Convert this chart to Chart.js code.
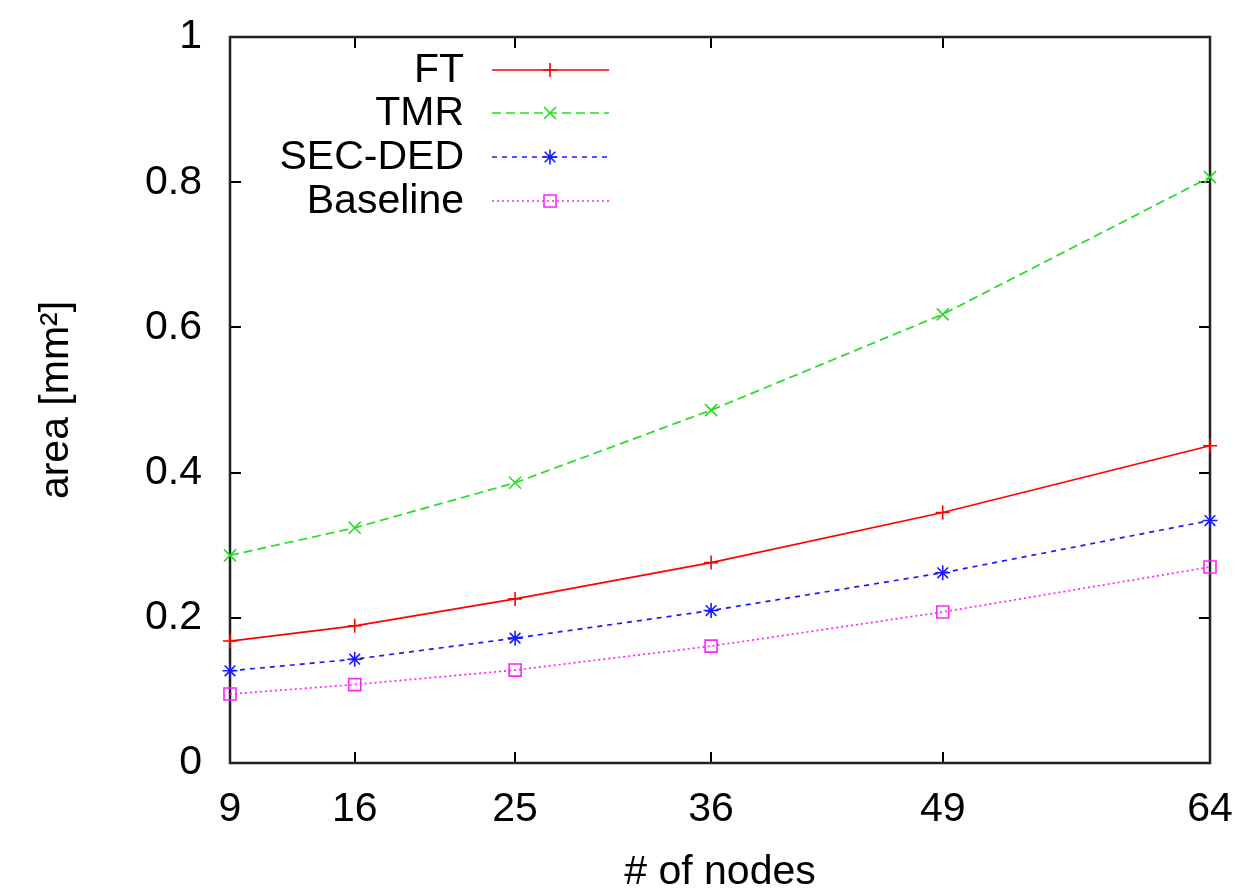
<!DOCTYPE html>
<html>
<head>
<meta charset="utf-8">
<script src="https://cdn.jsdelivr.net/npm/chart.js@4.4.0/dist/chart.umd.min.js"></script>
<style>
  html, body { margin: 0; padding: 0; background: #fff; }
  #wrap { width: 1237px; height: 889px; }
</style>
</head>
<body>
<div id="wrap"><canvas id="c" width="1237" height="889"></canvas></div>
<script>
const nodes = [9, 16, 25, 36, 49, 64];
const xTicks = [9, 16, 25, 36, 49, 64];
const yTicks = [0, 0.2, 0.4, 0.6, 0.8, 1];
const seriesNames = ['FT', 'TMR', 'SEC-DED', 'Baseline'];
const ftArea = [0.168, 0.189, 0.226, 0.276, 0.345, 0.437];
const tmrArea = [0.286, 0.324, 0.386, 0.486, 0.618, 0.807];
const secdedArea = [0.127, 0.143, 0.172, 0.210, 0.262, 0.334];
const baselineArea = [0.095, 0.108, 0.128, 0.161, 0.208, 0.270];

const FONT = 'Liberation Sans, Arial, Helvetica, sans-serif';

function pts(vals) { return nodes.map((x, i) => ({ x: x, y: vals[i] })); }

const styles = [
  { color: '#ff0000', dash: [], pointStyle: 'cross', radius: 7 },
  { color: '#22dd22', dash: [9, 5], pointStyle: 'crossRot', radius: 8.5 },
  { color: '#1a1aff', dash: [5, 5], pointStyle: 'star', radius: 7.5 },
  { color: '#ff22ff', dash: [2, 3], pointStyle: 'rect', radius: 8.5 }
];
const seriesVals = [ftArea, tmrArea, secdedArea, baselineArea];

const datasets = seriesNames.map((name, i) => ({
  label: name,
  data: pts(seriesVals[i]),
  borderColor: styles[i].color,
  backgroundColor: 'rgba(0,0,0,0)',
  borderWidth: 1.7,
  borderDash: styles[i].dash,
  pointStyle: styles[i].pointStyle,
  pointRadius: styles[i].radius,
  pointHoverRadius: styles[i].radius,
  pointBorderColor: styles[i].color,
  pointBackgroundColor: 'rgba(0,0,0,0)',
  pointBorderWidth: 1.6,
  tension: 0,
  clip: false
}));

const framePlugin = {
  id: 'frame',
  beforeDatasetsDraw(chart) {
    const { ctx, chartArea: a, scales } = chart;
    const TL = 11;
    ctx.save();
    ctx.strokeStyle = '#000';
    ctx.lineWidth = 2;
    ctx.setLineDash([]);
    ctx.beginPath();
    xTicks.forEach(v => {
      const px = Math.round(scales.x.getPixelForValue(v));
      ctx.moveTo(px, a.bottom); ctx.lineTo(px, a.bottom - TL);
      ctx.moveTo(px, a.top); ctx.lineTo(px, a.top + TL);
    });
    yTicks.forEach(v => {
      const py = Math.round(scales.y.getPixelForValue(v));
      ctx.moveTo(a.left, py); ctx.lineTo(a.left + TL, py);
      ctx.moveTo(a.right, py); ctx.lineTo(a.right - TL, py);
    });
    ctx.stroke();
    ctx.lineWidth = 2.5;
    ctx.strokeStyle = '#222';
    ctx.strokeRect(a.left, a.top, a.right - a.left, a.bottom - a.top);
    ctx.restore();
  }
};

const legendPlugin = {
  id: 'gpLegend',
  afterDatasetsDraw(chart) {
    const { ctx } = chart;
    const rows = [70, 113, 157, 201];
    const textRight = 464, lineL = 492, lineR = 609, markX = 550;
    ctx.save();
    chart.data.datasets.forEach((ds, i) => {
      const y = rows[i];
      ctx.font = '41px ' + FONT;
      ctx.fillStyle = '#000';
      ctx.textAlign = 'right';
      ctx.textBaseline = 'middle';
      ctx.fillText(ds.label, textRight, y + 1);
      ctx.strokeStyle = ds.borderColor;
      ctx.lineWidth = ds.borderWidth;
      ctx.setLineDash(ds.borderDash);
      ctx.beginPath();
      ctx.moveTo(lineL, y); ctx.lineTo(lineR, y);
      ctx.stroke();
      ctx.setLineDash([]);
      ctx.fillStyle = 'rgba(0,0,0,0)';
      ctx.lineWidth = ds.pointBorderWidth;
      Chart.helpers.drawPoint(ctx, {
        pointStyle: ds.pointStyle, radius: ds.pointRadius, rotation: 0, borderWidth: ds.pointBorderWidth
      }, markX, y);
    });
    ctx.restore();
  }
};

new Chart(document.getElementById('c'), {
  type: 'line',
  data: { datasets: datasets },
  options: {
    responsive: false,
    animation: false,
    layout: { padding: { left: 0, right: 27, top: 37, bottom: 0 } },
    plugins: { legend: { display: false }, tooltip: { enabled: false } },
    scales: {
      x: {
        type: 'linear',
        min: 9, max: 64,
        afterBuildTicks(scale) { scale.ticks = xTicks.map(v => ({ value: v })); },
        afterFit(scale) { scale.height = 126; scale.paddingLeft = 0; scale.paddingRight = 0; },
        grid: { display: false, drawTicks: false },
        border: { display: false },
        ticks: {
          autoSkip: false, maxRotation: 0, padding: 22,
          color: '#000', font: { family: FONT, size: 41 },
          callback: v => String(v)
        },
        title: {
          display: true, text: '# of nodes', color: '#000',
          font: { family: FONT, size: 41 }, padding: { top: 0, bottom: -8 }
        }
      },
      y: {
        min: 0, max: 1,
        afterBuildTicks(scale) { scale.ticks = yTicks.map(v => ({ value: v })); },
        afterFit(scale) { scale.width = 230; scale.paddingTop = 0; scale.paddingBottom = 0; },
        grid: { display: false, drawTicks: false },
        border: { display: false },
        ticks: {
          padding: 28, color: '#000', font: { family: FONT, size: 41 },
          callback: v => String(Math.round(v * 10) / 10)
        },
        title: {
          display: true, text: 'area [mm²]', color: '#000',
          font: { family: FONT, size: 41 }, padding: { top: 32, bottom: 0 }
        }
      }
    }
  },
  plugins: [framePlugin, legendPlugin]
});
</script>
</body>
</html>
